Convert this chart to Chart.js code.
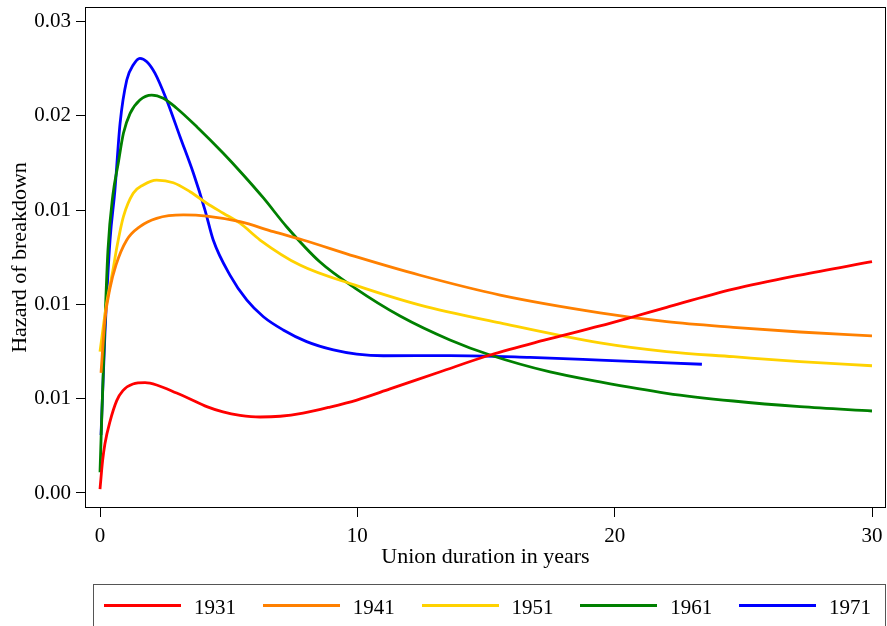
<!DOCTYPE html>
<html><head><meta charset="utf-8">
<script src="https://cdn.jsdelivr.net/npm/chart.js@4/dist/chart.umd.min.js"></script>
<style>
html,body{margin:0;padding:0;background:#fff;}
#wrap{position:relative;width:887px;height:626px;overflow:hidden;background:#fff;}
#c{position:absolute;left:0;top:0;}
#legend{position:absolute;left:93px;top:584px;width:793px;height:46px;border:1px solid #555;box-sizing:border-box;font-family:"Liberation Serif","Times New Roman",serif;font-size:21px;color:#000;}
.item{position:absolute;top:0;height:42px;width:150px;}
.swatch{position:absolute;left:0;top:19px;width:77px;height:3px;}
.lbl{position:absolute;left:90px;top:10px;line-height:24px;white-space:nowrap;}
</style></head>
<body>
<div id="wrap">
<canvas id="c" width="887" height="626"></canvas>
<div id="legend"></div>
</div>
<script>
// ---- data ----
const seriesLabels = ['1931', '1941', '1951', '1961', '1971'];
const seriesColors = ['#ff0000', '#ff8000', '#ffd200', '#008000', '#0000ff'];

const years1931 = [0, 0.1, 0.19, 0.39, 0.65, 0.89, 1.28, 1.75, 2.2, 2.98, 3.5, 4.15, 4.78, 5.44, 6.22, 7.0, 7.89, 8.94, 9.98, 11.27, 13.2, 15.16, 17.3, 19.43, 20.73, 22.02, 24.61, 27.2, 30.0];
const hazard1931 = [0.0002, 0.0017, 0.0026, 0.0038, 0.0049, 0.00543, 0.00578, 0.00585, 0.00573, 0.0053, 0.00499, 0.00458, 0.0043, 0.00412, 0.00403, 0.00407, 0.00424, 0.00456, 0.00493, 0.00552, 0.00642, 0.00732, 0.00812, 0.00886, 0.00935, 0.00985, 0.01081, 0.01156, 0.01227];

const years1941 = [0.04, 0.19, 0.39, 0.62, 1.04, 1.55, 2.2, 3.24, 4.15, 5.44, 6.74, 7.89, 9.91, 12.44, 15.55, 19.43, 22.02, 24.61, 27.2, 30.0];
const hazard1941 = [0.00637, 0.00918, 0.01087, 0.01209, 0.01342, 0.01413, 0.01457, 0.01475, 0.01469, 0.01439, 0.01386, 0.01342, 0.01255, 0.01155, 0.0105, 0.00956, 0.00909, 0.00879, 0.00854, 0.00833];

const years1951 = [0, 0.25, 0.5, 0.65, 0.91, 1.29, 1.68, 2.2, 2.85, 3.5, 4.15, 4.79, 5.44, 6.22, 7.77, 9.91, 12.44, 15.55, 19.43, 22.02, 24.61, 27.2, 30.0];
const hazard1951 = [0.0075, 0.0100, 0.0118, 0.0130, 0.01466, 0.0159, 0.01634, 0.0166, 0.01646, 0.01598, 0.01537, 0.01484, 0.01431, 0.01342, 0.01209, 0.01103, 0.00997, 0.00902, 0.00796, 0.0075, 0.00723, 0.00697, 0.00675];

const years1961 = [0, 0.155, 0.31, 0.5, 0.71, 0.91, 1.17, 1.55, 2.01, 2.46, 2.98, 3.76, 4.79, 5.57, 6.35, 7.26, 8.55, 9.91, 11.66, 13.6, 15.16, 17.49, 19.43, 22.02, 24.61, 27.2, 30.0];
const hazard1961 = [0.0011, 0.0076, 0.0129, 0.0158, 0.0175, 0.01908, 0.02014, 0.02085, 0.02111, 0.02094, 0.02041, 0.01943, 0.01802, 0.01687, 0.01565, 0.01411, 0.01225, 0.01087, 0.00939, 0.00812, 0.00732, 0.00642, 0.00589, 0.00529, 0.00488, 0.00458, 0.00435];

const years1971 = [0.04, 0.19, 0.39, 0.58, 0.78, 1.04, 1.29, 1.55, 1.82, 2.14, 2.59, 3.11, 3.63, 4.08, 4.4, 5.05, 5.7, 6.35, 7.12, 8.03, 9.07, 9.98, 11.01, 13.6, 16.71, 19.43, 23.39];
const hazard1971 = [0.00308, 0.00838, 0.01342, 0.01607, 0.01961, 0.02191, 0.0227, 0.02306, 0.02288, 0.02226, 0.02085, 0.0189, 0.01696, 0.01501, 0.01342, 0.01156, 0.01024, 0.00935, 0.00865, 0.00803, 0.00759, 0.00737, 0.00728, 0.00729, 0.00719, 0.00705, 0.00683];

const xTickValues = [0, 10, 20, 30];
const xTickLabels = ['0', '10', '20', '30'];
const yTickValues = [0, 0.005, 0.01, 0.015, 0.02, 0.025];
const yTickLabels = ['0.00', '0.01', '0.01', '0.01', '0.02', '0.03'];
const xTitle = 'Union duration in years';
const yTitle = 'Hazard of breakdown';

// ---- build chart ----
const allYears = [years1931, years1941, years1951, years1961, years1971];
const allHazard = [hazard1931, hazard1941, hazard1951, hazard1961, hazard1971];
const FONT = '"Liberation Serif", "Times New Roman", serif';

const datasets = seriesLabels.map((lab, i) => ({
  label: lab,
  data: allYears[i].map((x, j) => ({x: x, y: allHazard[i][j]})),
  borderColor: seriesColors[i],
  backgroundColor: seriesColors[i],
  borderWidth: 2.8,
  pointRadius: 0,
  fill: false,
  cubicInterpolationMode: 'monotone',
  borderJoinStyle: 'round',
  borderCapStyle: 'butt'
}));

const framePlugin = {
  id: 'frame',
  afterDatasetsDraw(chart) {
    const a = chart.chartArea, ctx = chart.ctx;
    ctx.save();
    ctx.strokeStyle = '#000';
    ctx.lineWidth = 1;
    ctx.strokeRect(Math.round(a.left) + 0.5, Math.round(a.top) + 0.5,
                   Math.round(a.right - a.left) - 1, Math.round(a.bottom - a.top) - 1);
    ctx.restore();
  }
};

function zeroPad(s) { s.paddingTop = 0; s.paddingBottom = 0; s.paddingLeft = 0; s.paddingRight = 0; }

new Chart(document.getElementById('c'), {
  type: 'line',
  data: {datasets: datasets},
  options: {
    responsive: false,
    animation: false,
    devicePixelRatio: 1,
    layout: {padding: {left: 0, top: 7, right: 1, bottom: 56}},
    plugins: {legend: {display: false}, tooltip: {enabled: false}},
    scales: {
      x: {
        type: 'linear',
        min: -0.583, max: 30.544,
        afterBuildTicks: s => { s.ticks = xTickValues.map(v => ({value: v})); },
        afterFit: s => { s.height = 62; zeroPad(s); },
        ticks: {
          autoSkip: false, maxRotation: 0, padding: 7, color: '#000',
          font: {family: FONT, size: 21},
          callback: (v, i) => xTickLabels[i]
        },
        grid: {drawOnChartArea: false, drawTicks: true, tickLength: 9, color: '#000', lineWidth: 1},
        border: {display: false},
        title: {display: true, text: xTitle, color: '#000', font: {family: FONT, size: 22}, padding: {top: 0, bottom: 0}}
      },
      y: {
        type: 'linear',
        min: -0.000796, max: 0.02578,
        afterBuildTicks: s => { s.ticks = yTickValues.map(v => ({value: v})); },
        afterFit: s => { s.width = 85; zeroPad(s); },
        ticks: {
          autoSkip: false, padding: 5, color: '#000',
          font: {family: FONT, size: 21},
          callback: (v, i) => yTickLabels[i]
        },
        grid: {drawOnChartArea: false, drawTicks: true, tickLength: 9, color: '#000', lineWidth: 1},
        border: {display: false},
        title: {display: true, text: yTitle, color: '#000', font: {family: FONT, size: 22}, padding: {top: 7, bottom: 0}}
      }
    }
  },
  plugins: [framePlugin]
});

// ---- legend ----
const leg = document.getElementById('legend');
seriesLabels.forEach((lab, i) => {
  const it = document.createElement('div');
  it.className = 'item';
  it.style.left = (10 + i * 158.75) + 'px';
  const sw = document.createElement('div');
  sw.className = 'swatch';
  sw.style.background = seriesColors[i];
  const t = document.createElement('span');
  t.className = 'lbl';
  t.textContent = lab;
  it.appendChild(sw); it.appendChild(t);
  leg.appendChild(it);
});
</script>
</body></html>
